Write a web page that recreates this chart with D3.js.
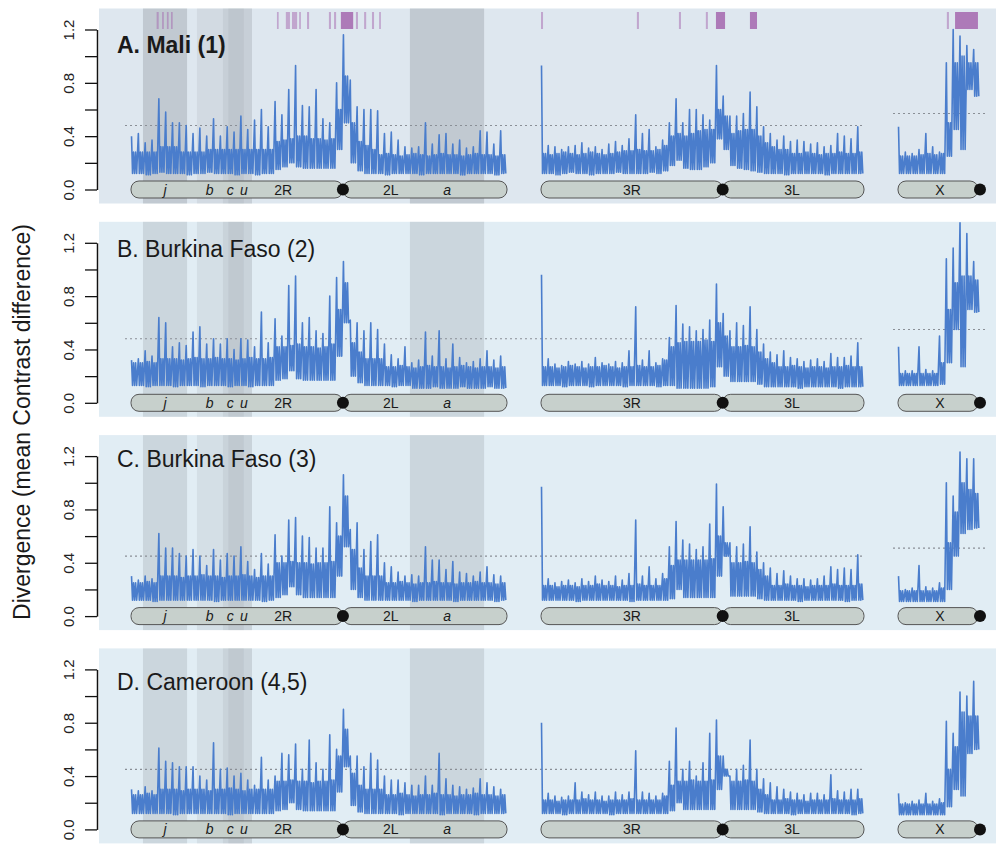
<!DOCTYPE html>
<html lang="en">
<head>
<meta charset="UTF-8">
<title>Divergence along the genome</title>
<script src="https://cdn.jsdelivr.net/npm/d3@7"></script>
<style>
  body { margin: 0; background: #fff; }
  svg { display: block; font-family: "Liberation Sans", Arial, sans-serif; }
</style>
</head>
<body>
<svg id="chart" width="1002" height="847"></svg>
<script>
// ---- data (2 Mb bins: per bin top spike, band top, band bottom) ----
const panelTitles = ["A. Mali (1)", "B. Burkina Faso (2)", "C. Burkina Faso (3)", "D. Cameroon (4,5)"];
const autoThreshold = [0.48, 0.48, 0.45, 0.45];
const xThreshold    = [0.57, 0.55, 0.51, null];
const yTicks  = [0, 0.2, 0.4, 0.6, 0.8, 1.0, 1.2];
const yLabels = [0, 0.4, 0.8, 1.2];

// chromosome 2 (2R then 2L), 55 bins
const chr2Hi = [
  [0.40,0.42,0.35,0.37,0.68,0.58,0.50,0.50,0.48,0.42,0.46,0.40,0.53,0.40,0.47,0.43,0.55,0.45,0.52,0.60,0.47,0.66,0.56,0.75,0.93,0.63,0.62,0.75,0.53,0.50,0.80,1.16,0.82,0.62,0.60,0.60,0.59,0.42,0.43,0.37,0.32,0.31,0.32,0.50,0.34,0.41,0.42,0.34,0.37,0.31,0.32,0.44,0.43,0.34,0.44],
  [0.32,0.33,0.39,0.35,0.64,0.60,0.42,0.45,0.43,0.53,0.57,0.44,0.48,0.44,0.48,0.40,0.48,0.47,0.42,0.68,0.45,0.63,0.50,0.88,0.95,0.60,0.64,0.54,0.52,0.80,0.94,1.06,0.62,0.60,0.54,0.60,0.55,0.44,0.36,0.33,0.42,0.30,0.32,0.53,0.35,0.54,0.33,0.44,0.34,0.30,0.31,0.33,0.39,0.32,0.35],
  [0.30,0.27,0.30,0.28,0.62,0.51,0.51,0.47,0.45,0.50,0.45,0.38,0.50,0.42,0.47,0.45,0.52,0.41,0.35,0.47,0.39,0.61,0.45,0.72,0.74,0.60,0.59,0.51,0.51,0.82,0.70,1.06,0.65,0.70,0.50,0.56,0.61,0.40,0.37,0.33,0.30,0.31,0.30,0.52,0.42,0.42,0.35,0.41,0.33,0.32,0.30,0.33,0.37,0.31,0.30],
  [0.30,0.29,0.32,0.29,0.61,0.51,0.50,0.47,0.47,0.47,0.40,0.37,0.65,0.45,0.46,0.40,0.42,0.37,0.33,0.54,0.37,0.40,0.57,0.56,0.64,0.45,0.67,0.50,0.45,0.71,0.60,0.90,0.55,0.55,0.47,0.57,0.52,0.40,0.37,0.37,0.35,0.33,0.33,0.40,0.33,0.57,0.38,0.33,0.32,0.30,0.31,0.38,0.35,0.32,0.30]
];
const chr2Mid = [
  [.28,.28,.28,.28,.32,.32,.32,.28,.28,.28,.28,.30,.30,.30,.30,.30,.30,.30,.30,.30,.30,.36,.37,.38,.40,.40,.38,.38,.37,.38,.60,.85,.50,.36,.33,.30,.26,.27,.26,.25,.26,.27,.26,.25,.26,.27,.26,.26,.25,.26,.27,.26,.26,.25,.26],
  [.30,.30,.31,.30,.33,.33,.33,.32,.33,.34,.33,.33,.34,.33,.33,.32,.33,.34,.33,.33,.34,.42,.42,.43,.44,.42,.42,.41,.42,.44,.70,.90,.45,.38,.33,.33,.33,.27,.27,.28,.27,.26,.27,.28,.27,.27,.26,.27,.28,.27,.26,.27,.27,.26,.27],
  [.25,.25,.26,.25,.30,.30,.30,.29,.30,.30,.31,.30,.30,.29,.30,.30,.31,.30,.29,.30,.30,.40,.40,.41,.40,.40,.39,.40,.40,.41,.60,.90,.50,.36,.30,.30,.30,.25,.25,.26,.25,.24,.25,.25,.26,.25,.25,.24,.25,.25,.26,.25,.25,.24,.25],
  [.26,.26,.27,.26,.30,.30,.30,.29,.30,.30,.30,.29,.30,.30,.31,.30,.29,.30,.30,.30,.30,.36,.36,.37,.36,.36,.35,.36,.36,.37,.55,.75,.42,.33,.30,.30,.30,.26,.26,.27,.26,.25,.26,.26,.27,.26,.26,.25,.26,.26,.27,.26,.26,.25,.26]
];
const chr2Lo = [
  [.12,.12,.11,.12,.13,.12,.12,.12,.11,.12,.12,.13,.12,.12,.12,.11,.12,.12,.11,.12,.12,.15,.17,.20,.17,.16,.16,.16,.16,.16,.30,.50,.20,.14,.12,.12,.12,.11,.12,.12,.12,.12,.11,.12,.12,.12,.12,.12,.11,.12,.12,.12,.12,.11,.12],
  [.13,.13,.12,.13,.13,.13,.12,.13,.13,.13,.12,.13,.13,.13,.12,.13,.13,.12,.13,.13,.13,.17,.18,.24,.18,.17,.17,.17,.17,.17,.35,.60,.20,.15,.13,.13,.13,.13,.12,.13,.13,.11,.11,.11,.12,.11,.11,.11,.12,.11,.11,.11,.12,.11,.11],
  [.12,.12,.12,.11,.12,.12,.12,.12,.12,.12,.12,.12,.11,.12,.12,.12,.12,.12,.12,.11,.12,.14,.16,.22,.16,.14,.14,.14,.14,.14,.30,.52,.20,.14,.12,.12,.12,.12,.12,.12,.12,.11,.12,.12,.12,.12,.12,.11,.12,.12,.12,.12,.12,.11,.12],
  [.12,.12,.12,.12,.12,.12,.11,.12,.12,.12,.12,.12,.12,.12,.11,.12,.12,.12,.12,.12,.12,.14,.15,.20,.15,.14,.14,.14,.14,.14,.28,.47,.18,.13,.12,.12,.12,.12,.12,.11,.12,.12,.12,.12,.12,.11,.12,.12,.12,.12,.11,.12,.12,.12,.12]
];

// chromosome 3 (3R then 3L), 48 bins
const chr3Hi = [
  [0.93,0.33,0.32,0.30,0.32,0.33,0.35,0.31,0.32,0.30,0.34,0.36,0.33,0.38,0.56,0.42,0.45,0.32,0.37,0.50,0.68,0.50,0.60,0.60,0.56,0.52,0.93,0.70,0.55,0.55,0.57,0.73,0.62,0.47,0.42,0.37,0.40,0.36,0.37,0.36,0.34,0.35,0.32,0.33,0.42,0.40,0.38,0.47],
  [0.96,0.33,0.29,0.28,0.31,0.29,0.31,0.29,0.34,0.30,0.29,0.31,0.30,0.39,0.72,0.32,0.39,0.30,0.33,0.49,0.73,0.59,0.57,0.54,0.55,0.62,0.89,0.67,0.54,0.60,0.58,0.72,0.55,0.44,0.38,0.36,0.39,0.34,0.33,0.31,0.32,0.33,0.31,0.37,0.34,0.34,0.35,0.45],
  [0.97,0.28,0.25,0.26,0.27,0.25,0.28,0.26,0.30,0.27,0.26,0.30,0.27,0.32,0.72,0.30,0.37,0.28,0.32,0.52,0.71,0.57,0.54,0.50,0.52,0.69,0.99,0.82,0.55,0.52,0.54,0.67,0.48,0.40,0.36,0.32,0.34,0.30,0.28,0.28,0.27,0.28,0.30,0.37,0.35,0.36,0.35,0.46],
  [0.80,0.27,0.25,0.24,0.25,0.35,0.28,0.26,0.28,0.25,0.25,0.28,0.26,0.28,0.59,0.28,0.27,0.25,0.27,0.51,0.76,0.45,0.51,0.40,0.50,0.72,0.82,0.55,0.40,0.45,0.48,0.67,0.45,0.38,0.35,0.32,0.30,0.28,0.27,0.26,0.27,0.27,0.26,0.41,0.29,0.28,0.30,0.30]
];
const chr3Mid = [
  [.27,.26,.27,.28,.27,.26,.27,.28,.27,.26,.27,.28,.29,.29,.30,.29,.29,.30,.33,.40,.42,.40,.42,.44,.45,.45,.60,.55,.42,.44,.45,.45,.40,.35,.32,.30,.30,.27,.27,.28,.27,.26,.27,.27,.28,.27,.27,.28],
  [.27,.27,.26,.27,.28,.27,.26,.27,.27,.28,.27,.26,.27,.27,.28,.27,.27,.28,.32,.42,.45,.46,.46,.46,.47,.46,.60,.50,.42,.42,.43,.42,.38,.33,.30,.27,.27,.28,.27,.26,.27,.27,.26,.27,.27,.28,.27,.27],
  [.23,.23,.22,.23,.23,.22,.23,.23,.24,.23,.23,.22,.23,.23,.24,.23,.23,.23,.28,.38,.42,.42,.42,.42,.42,.43,.60,.55,.40,.40,.41,.40,.35,.30,.23,.23,.24,.23,.23,.22,.23,.23,.23,.24,.23,.23,.23,.24],
  [.22,.22,.21,.22,.22,.22,.23,.22,.22,.21,.22,.22,.22,.23,.22,.22,.22,.22,.25,.33,.36,.36,.37,.36,.36,.37,.55,.45,.36,.36,.37,.36,.30,.26,.22,.22,.23,.22,.22,.21,.22,.22,.22,.23,.22,.22,.22,.23]
];
const chr3Lo = [
  [.12,.12,.11,.12,.13,.12,.12,.11,.12,.12,.12,.13,.12,.12,.12,.12,.13,.12,.14,.18,.22,.16,.15,.15,.17,.20,.38,.30,.18,.16,.15,.14,.13,.12,.12,.12,.11,.12,.12,.12,.12,.12,.11,.12,.12,.12,.12,.12],
  [.13,.13,.13,.12,.13,.13,.13,.12,.13,.13,.13,.13,.12,.13,.13,.13,.13,.12,.13,.13,.11,.11,.11,.11,.11,.12,.27,.20,.16,.16,.16,.16,.14,.12,.12,.12,.12,.12,.11,.12,.12,.12,.12,.12,.11,.12,.12,.12],
  [.12,.12,.12,.12,.12,.11,.12,.12,.12,.12,.12,.12,.12,.11,.12,.12,.12,.12,.12,.13,.20,.14,.14,.14,.14,.14,.30,.45,.15,.15,.15,.15,.13,.12,.12,.12,.12,.12,.11,.12,.12,.12,.12,.12,.12,.11,.12,.12],
  [.12,.12,.12,.11,.12,.12,.12,.12,.12,.12,.11,.12,.12,.12,.12,.12,.12,.12,.12,.14,.20,.15,.15,.15,.15,.15,.30,.40,.15,.15,.15,.15,.13,.12,.12,.12,.12,.11,.12,.12,.12,.12,.12,.12,.12,.12,.11,.12]
];

// X chromosome, 12 bins
const chrXHi = [
  [0.47,0.28,0.27,0.30,0.42,0.32,0.28,0.95,1.20,1.15,1.08,1.05],
  [0.42,0.24,0.24,0.42,0.25,0.24,0.50,1.08,1.16,1.35,1.27,1.06],
  [0.30,0.20,0.21,0.38,0.22,0.21,0.25,1.00,0.90,1.23,1.18,1.18],
  [0.27,0.20,0.21,0.22,0.27,0.21,0.23,0.81,0.72,1.03,1.00,1.11]
];
const chrXMid = [
  [.25,.25,.25,.26,.27,.26,.27,.50,.95,1.00,.95,.95],
  [.22,.22,.22,.22,.22,.22,.30,.70,.90,.95,.95,.92],
  [.19,.19,.19,.19,.19,.19,.21,.55,.78,1.00,.95,.92],
  [.19,.19,.19,.19,.19,.19,.20,.45,.62,.88,.85,.85]
];
const chrXLo = [
  [.12,.12,.12,.12,.12,.12,.12,.25,.45,.30,.75,.70],
  [.13,.13,.13,.13,.13,.13,.14,.30,.55,.27,.70,.68],
  [.11,.11,.11,.11,.11,.11,.11,.20,.45,.62,.65,.66],
  [.11,.11,.11,.11,.11,.11,.11,.17,.30,.25,.57,.60]
];

// inversions on chromosome 2 (Mb in plot coordinates)
const inversions = [
  { name: "j", start: 3.5,  end: 16.4,  strong: true },
  { name: "b", start: 19.3, end: 35.4,  strong: false },
  { name: "c", start: 26.9, end: 33.0,  strong: false },
  { name: "u", start: 28.5, end: 35.4,  strong: false },
  { name: "a", start: 81.6, end: 103.3, strong: true }
];

// outlier windows marked on top of panel A: [chrom, startMb, endMb]
const outliers = [
  ["2", 7.5, 8.1], ["2", 9.1, 9.6], ["2", 10.5, 11.0], ["2", 11.7, 12.2],
  ["2", 42.7, 43.2], ["2", 45.3, 46.5], ["2", 47.1, 48.6], ["2", 49.2, 49.7], ["2", 51.5, 52.1],
  ["2", 57.9, 58.5], ["2", 59.4, 60.0], ["2", 61.4, 65.0], ["2", 65.8, 66.4],
  ["2", 68.2, 68.8], ["2", 70.5, 71.1], ["2", 72.6, 73.1],
  ["3", 0.0, 0.6], ["3", 28.5, 29.1], ["3", 41.0, 41.6], ["3", 49.0, 49.6],
  ["3", 52.0, 54.7], ["3", 62.1, 64.2],
  ["X", 14.3, 14.9], ["X", 16.7, 23.4]
];

const arms = [
  { chrom: "2", start: 0,  end: 62 }, { chrom: "2", start: 62, end: 110 },
  { chrom: "3", start: 0,  end: 54 }, { chrom: "3", start: 54, end: 96 },
  { chrom: "X", start: 0,  end: 23.4 }
];
const centromeres = [["2", 62], ["3", 54], ["X", 24]];
const armLabels = [
  ["2", 10, "j", true], ["2", 23, "b", true], ["2", 29, "c", true], ["2", 33, "u", true],
  ["2", 44.5, "2R", false], ["2", 76, "2L", false], ["2", 92.5, "a", true],
  ["3", 27, "3R", false], ["3", 74.6, "3L", false], ["X", 12.3, "X", false]
];

// ---- drawing ----
const svg = d3.select("#chart");
const xs = {
  "2": d3.scaleLinear().domain([0, 110]).range([131, 507]),
  "3": d3.scaleLinear().domain([0, 96]).range([541, 864]),
  "X": d3.scaleLinear().domain([0, 24]).range([898, 980])
};
const binMb = 2;
const blue = "#4a7dcc";
const titleDrop = [137, 146, 149, 139];

// each bin: one spike to the top value, then the dense band between bottom and band top
function trace(hi, mid, lo) {
  const pts = [];
  hi.forEach((h, i) => {
    const s = i * binMb;
    pts.push([s + 0.15, h], [s + 0.45, lo[i]], [s + 0.75, mid[i]],
             [s + 1.05, lo[i]], [s + 1.35, mid[i]], [s + 1.65, lo[i]]);
  });
  return pts;
}

panelTitles.forEach((title, p) => {
  const zero = 189.5 + p * 213.3;
  const y = d3.scaleLinear().domain([0, 1.2]).range([zero, zero - 160]);
  const g = svg.append("g");

  g.append("rect")
    .attr("x", 99).attr("y", zero - 181)
    .attr("width", 897).attr("height", 195)
    .attr("fill", p === 0 ? "#dee7ef" : "#e1edf4");

  g.selectAll(".inv")
    .data(inversions)
    .join("rect")
      .attr("x", d => xs["2"](d.start))
      .attr("width", d => xs["2"](d.end) - xs["2"](d.start))
      .attr("y", zero - 181).attr("height", 195)
      .attr("fill", "#8e959c")
      .attr("opacity", d => d.strong ? (p === 0 ? 0.36 : 0.26) : 0.15);

  if (p === 0) {
    g.selectAll(".out")
      .data(outliers)
      .join("rect")
        .attr("x", d => xs[d[0]](d[1]))
        .attr("width", d => Math.max(1.5, xs[d[0]](d[2]) - xs[d[0]](d[1])))
        .attr("y", 12).attr("height", 17)
        .attr("fill", "#a466ae")
        .attr("opacity", d => d[2] - d[1] > 2 ? 0.85 : 0.5);
  }

  // threshold lines
  g.append("line")
    .attr("x1", 125).attr("x2", 863)
    .attr("y1", y(autoThreshold[p])).attr("y2", y(autoThreshold[p]))
    .attr("stroke", "#8a8f96").attr("stroke-width", 1.1).attr("stroke-dasharray", "2,3");
  if (xThreshold[p] !== null) {
    g.append("line")
      .attr("x1", 893).attr("x2", 985)
      .attr("y1", y(xThreshold[p])).attr("y2", y(xThreshold[p]))
      .attr("stroke", "#8a8f96").attr("stroke-width", 1.1).attr("stroke-dasharray", "2,3");
  }

  // signal
  const series = [
    ["2", trace(chr2Hi[p], chr2Mid[p], chr2Lo[p])],
    ["3", trace(chr3Hi[p], chr3Mid[p], chr3Lo[p])],
    ["X", trace(chrXHi[p], chrXMid[p], chrXLo[p])]
  ];
  series.forEach(([c, pts]) => {
    g.append("path")
      .attr("d", d3.line().x(d => xs[c](d[0])).y(d => y(d[1]))(pts))
      .attr("fill", "none")
      .attr("stroke", blue)
      .attr("stroke-width", 1.6)
      .attr("stroke-linejoin", "round");
  });

  // chromosome arms
  g.selectAll(".arm")
    .data(arms)
    .join("rect")
      .attr("x", d => xs[d.chrom](d.start))
      .attr("width", d => xs[d.chrom](d.end) - xs[d.chrom](d.start))
      .attr("y", zero - 8.5).attr("height", 17)
      .attr("rx", 8).attr("ry", 8)
      .attr("fill", "#c7d0cc").attr("stroke", "#555").attr("stroke-width", 1);

  g.selectAll(".cen")
    .data(centromeres)
    .join("circle")
      .attr("cx", d => xs[d[0]](d[1])).attr("cy", zero)
      .attr("r", 6).attr("fill", "#111");

  g.selectAll(".alab")
    .data(armLabels)
    .join("text")
      .attr("x", d => xs[d[0]](d[1])).attr("y", zero + 5)
      .attr("text-anchor", "middle")
      .attr("font-size", 14)
      .attr("font-style", d => d[3] ? "italic" : "normal")
      .attr("fill", "#1a1a1a")
      .text(d => d[2]);

  // title
  g.append("text")
    .attr("x", 117).attr("y", zero - titleDrop[p])
    .attr("font-size", 23)
    .attr("font-weight", p === 0 ? "bold" : "normal")
    .attr("fill", "#1a1a1a")
    .text(title);

  // y axis
  const axis = d3.axisLeft(y)
    .tickValues(yTicks)
    .tickSize(12).tickSizeOuter(0)
    .tickFormat(d => yLabels.some(v => Math.abs(v - d) < 1e-6) ? d.toFixed(1) : "");
  const ag = g.append("g").attr("transform", "translate(97,0)").call(axis);
  ag.select(".domain").attr("stroke", "#111").attr("stroke-width", 1.5);
  ag.selectAll(".tick line").attr("stroke", "#111").attr("stroke-width", 1.3);
  ag.selectAll(".tick text")
    .attr("x", 0).attr("dy", 0)
    .attr("transform", "translate(-23,0) rotate(-90)")
    .attr("text-anchor", "middle")
    .attr("font-size", 15)
    .attr("font-family", "'Liberation Sans Narrow', 'Liberation Sans', Arial, sans-serif")
    .attr("fill", "#222");
});

svg.append("text")
  .attr("transform", "translate(30,422) rotate(-90)")
  .attr("text-anchor", "middle")
  .attr("font-size", 23)
  .attr("fill", "#1a1a1a")
  .text("Divergence (mean Contrast difference)");
</script>
</body>
</html>
